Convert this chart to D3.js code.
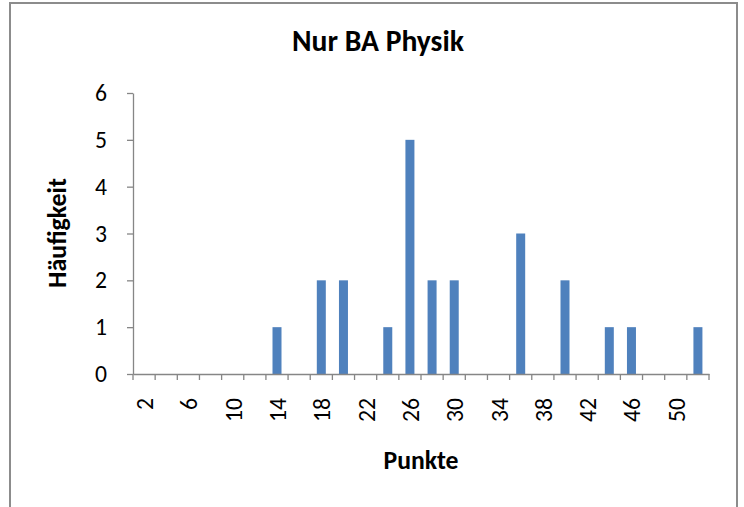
<!DOCTYPE html>
<html><head><meta charset="utf-8">
<script src="https://cdn.jsdelivr.net/npm/d3@7"></script>
<style>body{margin:0;background:#fff}svg{display:block}</style>
</head><body>
<svg id="c" width="744" height="507"></svg>
<script>
const categories = [2,4,6,8,10,12,14,16,18,20,22,24,26,28,30,32,34,36,38,40,42,44,46,48,50,52];
const counts =     [0,0,0,0,0,0,1,0,2,2,0,1,5,2,2,0,0,3,0,2,0,1,1,0,0,1];
const yTicks = [0,1,2,3,4,5,6];
const xLabels = [2,6,10,14,18,22,26,30,34,38,42,46,50];
const title = "Nur BA Physik";
const xTitle = "Punkte";
const yTitle = "Häufigkeit";

const font = "Carlito, Calibri, Lato, 'Open Sans', sans-serif";
const svg = d3.select("#c");
svg.append("rect").attr("x",10).attr("y",3).attr("width",727).attr("height",520)
  .attr("fill","#fff").attr("stroke","#8c8c8c").attr("stroke-width",2);

const probe = svg.append("text").attr("font-family",font).attr("font-size",20).text("50");
const tickFs = 20*24/(probe.node().getComputedTextLength()||24);
probe.remove();

const m = {l:133, r:709, t:93, b:374};
const xb = d3.scaleBand().domain(categories).range([m.l, m.r]);
const y = d3.scaleLinear().domain([0,6]).range([m.b, m.t]);

svg.append("g").selectAll("rect").data(categories.map((c,i)=>({c, v:counts[i]})).filter(d=>d.v>0))
  .join("rect")
  .attr("x", d=>xb(d.c)+xb.bandwidth()/2-4.5)
  .attr("width", 9)
  .attr("y", d=>y(d.v)).attr("height", d=>y(0)-y(d.v))
  .attr("fill","#4f81bd");

const ya = svg.append("g").attr("transform",`translate(${m.l},0)`)
  .call(d3.axisLeft(y).tickValues(yTicks).tickFormat(d3.format("d")).tickSize(6).tickPadding(20).tickSizeOuter(0));
ya.select(".domain").attr("stroke","#868686").attr("stroke-width",1.3);
ya.selectAll(".tick line").attr("stroke","#868686").attr("stroke-width",1.3);
ya.selectAll("text").attr("font-family",font).attr("font-size",tickFs).attr("fill","#000");

const xa = svg.append("g").attr("transform",`translate(0,${m.b})`)
  .call(d3.axisBottom(xb).tickValues([]).tickSizeOuter(0));
xa.select(".domain").attr("stroke","#868686").attr("stroke-width",1.3);
const edges = categories.map(c=>xb(c)).concat([m.r]);
xa.selectAll("line.edge").data(edges).join("line").attr("class","edge")
  .attr("x1",d=>d).attr("x2",d=>d).attr("y1",0).attr("y2",6)
  .attr("stroke","#868686").attr("stroke-width",1.3);
xa.selectAll("text.lab").data(xLabels).join("text").attr("class","lab")
  .attr("transform", d=>`translate(${xb(d)+xb.bandwidth()/2+9},24) rotate(-90)`)
  .attr("text-anchor","end")
  .attr("font-family",font).attr("font-size",tickFs).attr("fill","#000")
  .text(d=>d);

function fit(sel, target){
  const w = sel.node().getComputedTextLength();
  const fs = parseFloat(sel.attr("font-size"));
  if (w > 0) sel.attr("font-size", fs*target/w);
}
const t1 = svg.append("text").attr("x",378).attr("y",51).attr("text-anchor","middle")
  .attr("font-family",font).attr("font-weight","bold").attr("font-size",20).text(title);
fit(t1, 172);
const t2 = svg.append("text").attr("x",421).attr("y",469).attr("text-anchor","middle")
  .attr("font-family",font).attr("font-weight","bold").attr("font-size",18).text(xTitle);
fit(t2, 75);
const t3 = svg.append("text").attr("transform","translate(66,233) rotate(-90)").attr("text-anchor","middle")
  .attr("font-family",font).attr("font-weight","bold").attr("font-size",18).text(yTitle);
fit(t3, 110);
</script>
</body></html>
